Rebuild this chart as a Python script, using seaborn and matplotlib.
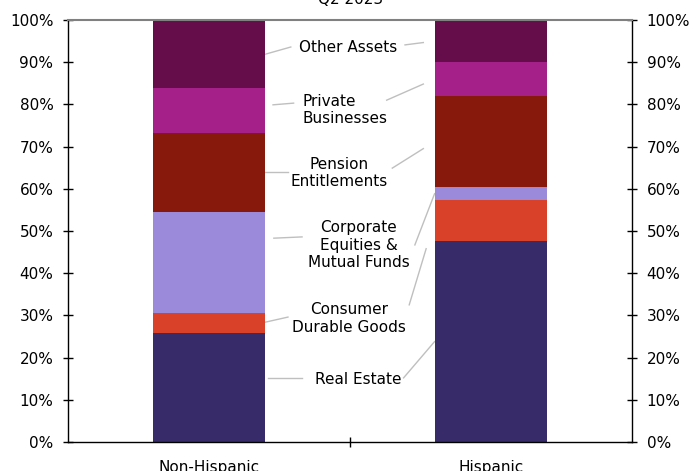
import numpy as np
import pandas as pd
import matplotlib.pyplot as plt
import seaborn as sns

# Data (share of total assets, %), Q2 2023
groups = ['Non-Hispanic', 'Hispanic']
assets = ['Real Estate', 'Consumer\nDurable Goods',
          'Corporate\nEquities &\nMutual Funds', 'Pension\nEntitlements',
          'Private\nBusinesses', 'Other Assets']
non_hispanic = [25.8, 4.8, 23.9, 18.7, 10.7, 16.1]
hispanic = [47.6, 9.7, 3.1, 21.6, 8.0, 10.0]
colors = ['#372B6A', '#D94128', '#9B8AD9', '#87190C', '#A6208A', '#650D4B']

# Label layout (data coords)
label_x = [0.53, 0.496, 0.53, 0.46, 0.333, 0.495]
label_y = [14.7, 29.3, 46.6, 63.7, 78.7, 93.4]
label_ha = ['center', 'center', 'center', 'center', 'left', 'center']
left_lines = [((0.21, 15.2), (0.33, 15.2)), ((0.20, 28.4), (0.28, 29.6)),
              ((0.23, 48.3), (0.33, 48.6)), ((0.20, 64.0), (0.28, 64.0)),
              ((0.227, 79.9), (0.30, 80.3)), ((0.20, 91.9), (0.29, 93.6))]
right_start = [(0.69, 15.2), (0.71, 32.5), (0.73, 46.7), (0.65, 64.9),
               (0.63, 81.0), (0.695, 94.1)]
right_end_x = [0.80, 0.77, 0.80, 0.76, 0.76, 0.76]

df = pd.DataFrame({'group': np.repeat(groups, len(assets)),
                   'asset': assets * len(groups),
                   'value': non_hispanic + hispanic})
df['cum'] = df.groupby('group')['value'].cumsum()

plt.rcParams['font.family'] = ['DejaVu Sans']
fig = plt.figure(figsize=(6.94, 4.71), dpi=100)
ax = fig.add_axes([68 / 694, 29 / 471, 564 / 694, 422 / 471])

# stacked bars: draw cumulative totals from top to bottom
for asset, color in reversed(list(zip(assets, colors))):
    sub = df[df['asset'] == asset]
    sns.barplot(data=sub, x='group', y='cum', order=groups, color=color,
                saturation=1, width=0.4, ax=ax, zorder=2)

ax.set_ylim(0, 100)
ax.set_xlim(-0.5, 1.5)
ax.set_yticks(np.arange(0, 101, 10))
ax.set_yticklabels([f'{v}%' for v in range(0, 101, 10)])
ax.set_xlabel('')
ax.set_ylabel('')
ax.set_xticks([0, 1])
ax.set_xticklabels(groups)
ax.set_xticks([0.5], minor=True)
ax.tick_params(axis='x', which='major', length=0, pad=13, labelsize=11)
ax.tick_params(axis='x', which='minor', length=7, direction='inout', width=1)
ax.tick_params(axis='y', left=True, right=True, labelleft=True, labelright=True,
               direction='inout', length=7, width=1, pad=7, labelsize=11)
for s in ['left', 'right', 'bottom']:
    ax.spines[s].set_color('black')
    ax.spines[s].set_linewidth(1)
ax.spines['top'].set_color('#808080')
ax.spines['top'].set_linewidth(1.5)

# labels with leader lines
hisp_mid = np.cumsum(hispanic) - np.array(hispanic) / 2
for i, name in enumerate(assets):
    ax.text(label_x[i], label_y[i], name, ha=label_ha[i], va='center',
            multialignment=label_ha[i], fontsize=11, color='black')
    (x0, y0), (x1, y1) = left_lines[i]
    ax.plot([x0, x1], [y0, y1], color='#BFBFBF', lw=1, zorder=1)
    xs, ys = right_start[i]
    xe = right_end_x[i]
    ye = ys + (hisp_mid[i] - ys) * (xe - xs) / (0.8 - xs)
    ax.plot([xs, xe], [ys, ye], color='#BFBFBF', lw=1, zorder=1)

fig.text(0.505, 1 - 4 / 471, 'Q2 2023', ha='center', va='baseline', fontsize=11)

fig.savefig('out.png', dpi=100)
